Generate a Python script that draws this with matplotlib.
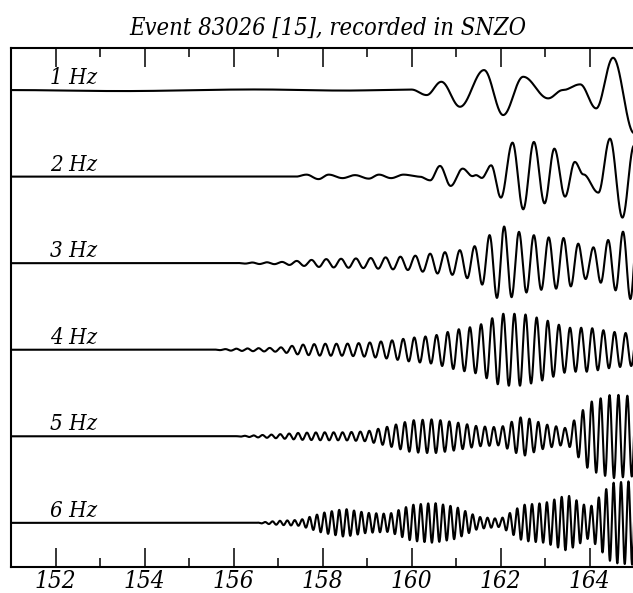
import matplotlib
matplotlib.use("Agg")
import numpy as np
import matplotlib.pyplot as plt
from matplotlib.ticker import MultipleLocator

plt.rcParams["font.family"] = ["DejaVu Serif"]
plt.rcParams["font.style"] = "italic"
plt.rcParams["font.stretch"] = "condensed"

# filter bands, top to bottom
bands = ["1 Hz", "2 Hz", "3 Hz", "4 Hz", "5 Hz", "6 Hz"]
x_ticks = [152, 154, 156, 158, 160, 162, 164]
x_ticklabels = ["152", "154", "156", "158", "160", "162", "164"]

# 1 Hz and 2 Hz: extrema (time s, amplitude)
ext_1hz_t = [151.0, 153.5, 156.5, 158.5, 160.0, 160.34, 160.67, 161.09, 161.63, 162.06,
             162.51, 163.07, 163.4, 163.79, 164.15, 164.53, 165.0]
ext_1hz_a = [0.0, -1.0, 0.6, -0.5, 0.5, -5.0, 8.3, -16.7, 20.0, -25.0,
             13.3, -8.3, 0.0, 5.7, -18.3, 32.3, -43.0]

ext_2hz_t = [151.0, 157.4, 157.64, 157.91, 158.14, 158.45, 158.73, 159.04, 159.27, 159.54,
             159.82, 160.18, 160.42, 160.64, 160.88, 161.15, 161.37, 161.45, 161.58, 161.79,
             162.01, 162.27, 162.51, 162.75, 162.99, 163.21, 163.45, 163.67, 163.86, 164.2,
             164.46, 164.74, 165.0]
ext_2hz_a = [0.0, 0.0, 2.0, -2.5, 2.0, -1.5, 1.5, -2.0, 2.0, -1.5,
             2.0, 0.0, -3.7, 10.7, -9.3, 8.0, 0.5, 1.5, -1.3, 11.3,
             -21.0, 34.0, -32.7, 34.7, -26.7, 28.0, -20.0, 14.7, 2.3, -16.0,
             38.0, -41.0, 31.0]

# 3-6 Hz: envelope every 0.5 s from 155.5 to 165 s
env_t = [155.5, 156.0, 156.5, 157.0, 157.5, 158.0, 158.5, 159.0, 159.5, 160.0,
         160.5, 161.0, 161.5, 162.0, 162.5, 163.0, 163.5, 164.0, 164.5, 165.0]
env_3hz = [0, 0, 0.8, 1, 2.5, 4, 4.5, 5, 6, 7, 10, 12, 18, 38, 30, 26, 25, 14, 25, 38]
env_4hz = [0, 1, 1.5, 2, 5, 6, 6, 7, 9, 12, 14, 20, 24, 36, 36, 30, 22, 22, 18, 16]
env_5hz = [0, 0, 1, 2, 3.5, 4, 4, 5, 10, 16, 17, 14, 10, 9, 20, 12, 8, 34, 42, 40]
env_6hz = [0, 0, 0, 2, 3, 10, 14, 10, 9, 18, 20, 16, 6, 4, 18, 20, 28, 15, 40, 42]
carrier_hz = [3.0, 4.0, 5.0, 6.0]

amp_scale = 1 / 86.6  # amplitude units per trace spacing

t = np.linspace(151.0, 165.0, 7001)


def from_extrema(tt, et, ea):
    et = np.asarray(et)
    ea = np.asarray(ea)
    i = np.clip(np.searchsorted(et, tt) - 1, 0, len(et) - 2)
    s = (tt - et[i]) / (et[i + 1] - et[i])
    return ea[i] + (ea[i + 1] - ea[i]) * (1 - np.cos(np.pi * s)) / 2


traces = [from_extrema(t, ext_1hz_t, ext_1hz_a), from_extrema(t, ext_2hz_t, ext_2hz_a)]
for env, f in zip([env_3hz, env_4hz, env_5hz, env_6hz], carrier_hz):
    traces.append(np.interp(t, env_t, env, left=0) * np.sin(2 * np.pi * f * (t - 151.0)))

fig = plt.figure(figsize=(6.33, 5.93), dpi=100)
ax = fig.add_axes([11 / 633, 26 / 593, 623 / 633, 519 / 593])

for k, (name, y) in enumerate(zip(bands, traces)):
    ax.plot(t, -k + y * amp_scale, color="black", lw=1.5)
    ax.text(151.88, -k + 6 * amp_scale, name, fontsize=16, va="baseline")

ax.set_xlim(151, 165)
ax.set_ylim(-5.51, 0.486)
ax.set_yticks([])
ax.spines["right"].set_visible(False)
for side in ("left", "top", "bottom"):
    ax.spines[side].set_linewidth(1.5)

ax.set_xticks(x_ticks, x_ticklabels, fontsize=17.5, family="DejaVu Serif",
              fontstyle="italic", fontstretch="condensed")
ax.xaxis.set_minor_locator(MultipleLocator(1))
ax.tick_params(axis="x", which="both", direction="in", top=True, width=1.1, pad=2)
ax.tick_params(axis="x", which="major", length=13.5)
ax.tick_params(axis="x", which="minor", length=6.5)

fig.text(328 / 633, 1 - 28 / 593, "Event 83026 [15], recorded in SNZO",
         fontsize=17, ha="center", va="center")

fig.savefig("out.png")
